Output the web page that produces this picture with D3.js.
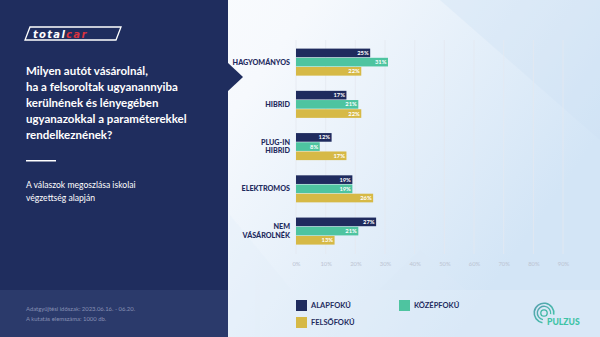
<!DOCTYPE html>
<html lang="hu">
<head>
<meta charset="UTF-8">
<title>Milyen autót vásárolnál?</title>
<script src="https://d3js.org/d3.v7.min.js"></script>
<style>
    html, body { margin: 0; padding: 0; background: #fff; }
    svg { display: block; font-family: Lato, "Open Sans", sans-serif; }
</style>
</head>
<body>
<svg width="600" height="337"></svg>
<script>
    const width = 600;
    const height = 337;

    // answers, broken down by education level (%)
    const categories = ["HAGYOMÁNYOS", "HIBRID", "PLUG-IN HIBRID", "ELEKTROMOS", "NEM VÁSÁROLNÉK"];
    const categoryLines = [["HAGYOMÁNYOS"], ["HIBRID"], ["PLUG-IN", "HIBRID"], ["ELEKTROMOS"], ["NEM", "VÁSÁROLNÉK"]];
    const alapfoku = [25, 17, 12, 19, 27];
    const kozepfoku = [31, 21, 8, 19, 21];
    const felsofoku = [22, 22, 17, 26, 13];
    const seriesNames = ["ALAPFOKÚ", "KÖZÉPFOKÚ", "FELSŐFOKÚ"];
    const seriesColors = ["#1f2b5e", "#4ec4a0", "#d6b946"];
    const ticks = [0, 10, 20, 30, 40, 50, 60, 70, 80, 90];

    const titleLines = [
        "Milyen autót vásárolnál,",
        "ha a felsoroltak ugyanannyiba",
        "kerülnének és lényegében",
        "ugyanazokkal a paraméterekkel",
        "rendelkeznének?"
    ];
    const subtitleLines = ["A válaszok megoszlása iskolai", "végzettség alapján"];
    const footLines = ["Adatgyűjtési időszak: 2023.06.16. - 06.20.", "A kutatás elemszáma: 1000 db."];

    const svg = d3.select("svg");
    const defs = svg.append("defs");

    // light background on the right
    const bg = defs.append("linearGradient").attr("id", "bg")
        .attr("x1", "0").attr("y1", "0").attr("x2", "1").attr("y2", "0.4");
    bg.append("stop").attr("offset", "0").attr("stop-color", "#ffffff");
    bg.append("stop").attr("offset", "0.45").attr("stop-color", "#f6f9fd");
    bg.append("stop").attr("offset", "1").attr("stop-color", "#d3e5f6");
    svg.append("rect").attr("width", width).attr("height", height).attr("fill", "url(#bg)");

    const shapes = svg.append("g").attr("opacity", 0.35);
    shapes.append("polygon").attr("points", "230,215 330,337 230,337").attr("fill", "#e3eef9");
    shapes.append("polygon").attr("points", "330,337 420,250 520,337").attr("fill", "#dbe9f7");
    shapes.append("polygon").attr("points", "440,0 600,0 600,140").attr("fill", "#cfe2f5");
    shapes.append("polygon").attr("points", "260,290 600,290 600,337 260,337").attr("fill", "#e6f0fa");

    // dark side panel
    const panelW = 228;
    svg.append("rect").attr("width", panelW).attr("height", height).attr("fill", "#1f2d5e");
    svg.append("rect").attr("y", 290).attr("width", panelW).attr("height", height - 290).attr("fill", "#2b3a6b");
    svg.append("polygon")
        .attr("points", `${panelW - 1},62 243,77 ${panelW - 1},92`)
        .attr("fill", "#1f2d5e");

    // totalcar logo
    const logo = svg.append("g");
    logo.append("polygon")
        .attr("points", "30,27 121,27 116,40 25,40")
        .attr("fill", "none").attr("stroke", "#fff").attr("stroke-width", 1.3);
    const logoText = logo.append("text").attr("x", 33).attr("y", 37.5)
        .attr("font-family", "'DejaVu Sans', sans-serif")
        .attr("font-size", 10).attr("font-weight", 700).attr("font-style", "italic")
        .attr("letter-spacing", 1.3);
    logoText.append("tspan").attr("fill", "#fff").text("total");
    logoText.append("tspan").attr("fill", "#d8343f").text("car");

    svg.append("g").selectAll("text").data(titleLines).join("text")
        .attr("x", 26).attr("y", (d, i) => 75 + i * 16)
        .attr("fill", "#fff").attr("font-size", 11.5).attr("font-weight", 700)
        .text(d => d);

    svg.append("rect").attr("x", 26).attr("y", 160).attr("width", 30).attr("height", 1.5).attr("fill", "#fff");

    svg.append("g").selectAll("text").data(subtitleLines).join("text")
        .attr("x", 26).attr("y", (d, i) => 188 + i * 13)
        .attr("fill", "#fff").attr("font-size", 8.6)
        .text(d => d);

    svg.append("g").selectAll("text").data(footLines).join("text")
        .attr("x", 26).attr("y", (d, i) => 311 + i * 10)
        .attr("fill", "#8790b3").attr("font-size", 5.9)
        .text(d => d);

    // chart
    const x = d3.scaleLinear().domain([0, 100]).range([296, 592.7]);
    const y = d3.scaleBand().domain(categories).range([41, 252.2])
        .paddingInner(0.36).paddingOuter(0.18);
    const ySub = d3.scaleBand().domain(seriesNames).range([0, y.bandwidth()]).paddingInner(0.06);

    svg.append("g").selectAll("line").data(ticks).join("line")
        .attr("x1", d => x(d)).attr("x2", d => x(d))
        .attr("y1", 40).attr("y2", 254)
        .attr("stroke", "#e4e9f0").attr("stroke-width", 0.8);

    const xAxis = svg.append("g")
        .attr("transform", "translate(0,259)")
        .call(d3.axisBottom(x).tickValues(ticks).tickFormat(d => d + "%").tickSize(0));
    xAxis.select(".domain").remove();
    xAxis.selectAll("text").attr("fill", "#bcc4d2").attr("font-size", 5.8)
        .attr("font-family", "Lato, sans-serif");

    const rows = categories.map((c, i) => ({
        cat: c,
        values: [alapfoku[i], kozepfoku[i], felsofoku[i]]
    }));

    const groups = svg.append("g").selectAll("g").data(rows).join("g")
        .attr("transform", d => `translate(0,${y(d.cat)})`);

    groups.selectAll("rect").data(d => d.values.map((v, j) => ({ v, s: seriesNames[j], j })))
        .join("rect")
        .attr("x", x(0)).attr("y", d => ySub(d.s))
        .attr("width", d => x(d.v) - x(0)).attr("height", ySub.bandwidth())
        .attr("fill", d => seriesColors[d.j]);

    groups.selectAll("text.val").data(d => d.values.map((v, j) => ({ v, s: seriesNames[j] })))
        .join("text").attr("class", "val")
        .attr("x", d => x(d.v) - 1.5).attr("y", d => ySub(d.s) + ySub.bandwidth() / 2 + 2)
        .attr("text-anchor", "end").attr("fill", "#fff")
        .attr("font-size", 5.8).attr("font-weight", 700)
        .text(d => d.v + "%");

    // category labels
    groups.each(function (d, i) {
        const lines = categoryLines[i];
        const mid = y.bandwidth() / 2;
        d3.select(this).selectAll("text.cat").data(lines).join("text").attr("class", "cat")
            .attr("x", 290)
            .attr("y", (t, k) => mid + 2.6 + (k - (lines.length - 1) / 2) * 8.6)
            .attr("text-anchor", "end").attr("fill", "#1f2b5e")
            .attr("font-size", 7.2).attr("font-weight", 900)
            .text(t => t);
    });

    // legend
    const legendItems = [
        { name: seriesNames[0], color: seriesColors[0], x: 296, y: 300 },
        { name: seriesNames[1], color: seriesColors[1], x: 399, y: 300 },
        { name: seriesNames[2], color: seriesColors[2], x: 296, y: 317 }
    ];
    const legend = svg.append("g").selectAll("g").data(legendItems).join("g")
        .attr("transform", d => `translate(${d.x},${d.y})`);
    legend.append("rect").attr("width", 11).attr("height", 11).attr("fill", d => d.color);
    legend.append("text").attr("x", 15).attr("y", 8.2)
        .attr("fill", "#1f2b5e").attr("font-size", 7.5).attr("font-weight", 700)
        .text(d => d.name);

    // pulzus logo
    const pulzus = svg.append("g");
    const pz = defs.append("linearGradient").attr("id", "pz")
        .attr("x1", "0").attr("y1", "0").attr("x2", "1").attr("y2", "1");
    pz.append("stop").attr("offset", "0").attr("stop-color", "#5a9fb0");
    pz.append("stop").attr("offset", "1").attr("stop-color", "#3dc7a8");
    const arc = d3.arc();
    [[9, 10.6], [6, 7.4]].forEach(([r0, r1]) => {
        pulzus.append("path")
            .attr("transform", "translate(544,313)")
            .attr("d", arc({ innerRadius: r0, outerRadius: r1, startAngle: -Math.PI * 0.95, endAngle: Math.PI * 0.55 }))
            .attr("fill", "url(#pz)");
    });
    pulzus.append("circle").attr("cx", 544).attr("cy", 313).attr("r", 3.2)
        .attr("fill", "none").attr("stroke", "#3fb7a4").attr("stroke-width", 1.3);
    pulzus.append("text").attr("x", 547).attr("y", 324.5)
        .attr("fill", "#3ec3a6").attr("font-size", 8.6).attr("font-weight", 900)
        .text("PULZUS");
</script>
</body>
</html>
